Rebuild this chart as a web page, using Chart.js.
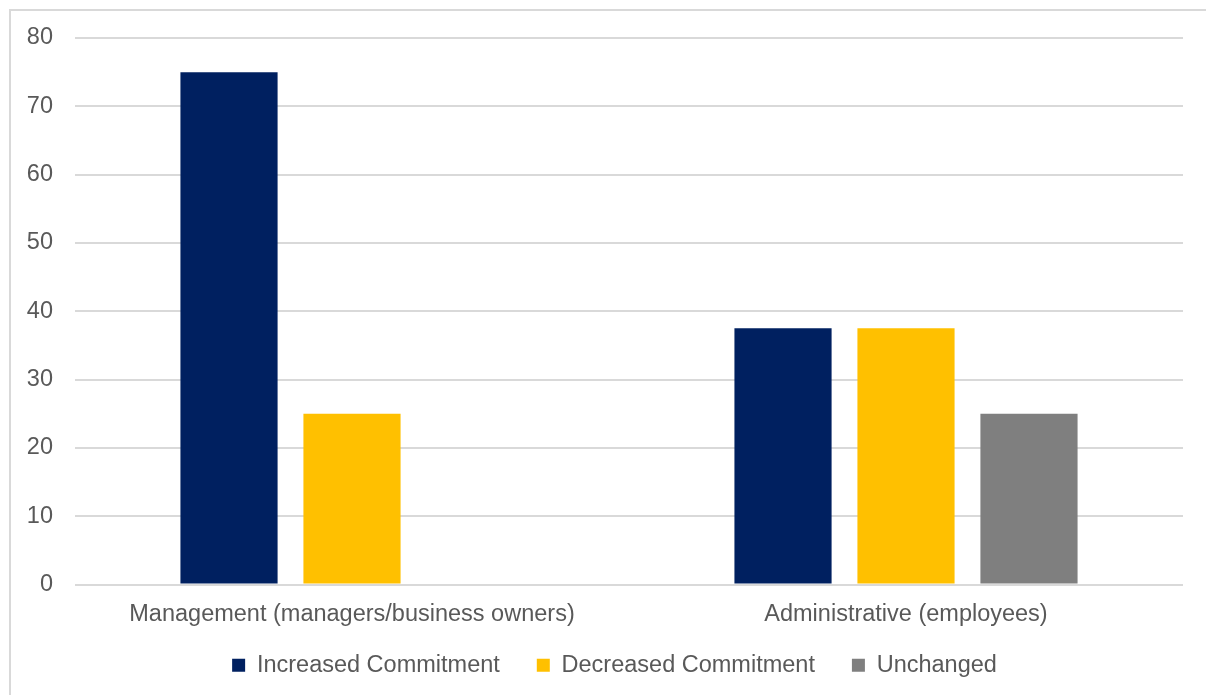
<!DOCTYPE html>
<html>
<head>
<meta charset="utf-8">
<script src="https://cdn.jsdelivr.net/npm/chart.js@4.4.0/dist/chart.umd.min.js"></script>
<style>
  body { margin: 0; background: #fff; overflow: hidden; }
  #rahmen {
    position: absolute; left: 9px; top: 9px; width: 1210px; height: 700px;
    border: 2px solid #d9d9d9; box-sizing: border-box;
  }
  #wrap { position: absolute; left: 0; top: 0; width: 1206px; height: 695px; }
</style>
</head>
<body>
<div id="rahmen"></div>
<div id="wrap"><canvas id="chart"></canvas></div>
<script>
// Kategorien und Werte
const kategorien = ["Management (managers/business owners)", "Administrative (employees)"];
const increased = [75, 37.5];
const decreased = [25, 37.5];
const unchanged = [0, 25];
const yTicks = [0, 10, 20, 30, 40, 50, 60, 70, 80];

const textFarbe = "#595959";
const gridFarbe = "#d9d9d9";
const schrift = { family: "'Liberation Sans', Arial, sans-serif", size: 23.5 };

// Balkendaten
const datasets = [
  { label: "Increased Commitment", data: increased, backgroundColor: "#002060" },
  { label: "Decreased Commitment", data: decreased, backgroundColor: "#FFC000" },
  { label: "Unchanged", data: unchanged, backgroundColor: "#7f7f7f" },
].map((d) => ({ ...d, borderWidth: 0, categoryPercentage: 0.666, barPercentage: 0.79 }));

// Legende nach oben und leicht nach rechts schieben
const legendeVerschieben = {
  id: "legendeVerschieben",
  afterLayout(chart) {
    const lg = chart.legend;
    if (!lg) return;
    lg.top -= 18;
    lg.bottom -= 18;
    lg.left += 23;
    lg.right += 23;
  },
};

const ctx = document.getElementById("chart").getContext("2d");
new Chart(ctx, {
  type: "bar",
  data: { labels: kategorien, datasets },
  plugins: [legendeVerschieben],
  options: {
    responsive: true,
    maintainAspectRatio: false,
    animation: false,
    layout: { padding: { top: 38, right: 23, bottom: -10, left: 0 } },
    plugins: {
      legend: {
        position: "bottom",
        labels: {
          color: textFarbe,
          font: schrift,
          boxWidth: 13,
          boxHeight: 13,
          padding: 37,
        },
      },
      tooltip: { enabled: false },
    },
    scales: {
      x: {
        grid: { display: false },
        border: { display: false },
        ticks: { color: textFarbe, padding: 8, font: schrift, maxRotation: 0 },
        afterFit: (scale) => { scale.height = 50; },
      },
      y: {
        min: 0,
        max: 80,
        afterBuildTicks: (scale) => { scale.ticks = yTicks.map((v) => ({ value: v })); },
        grid: { color: gridFarbe, lineWidth: 2, drawTicks: false },
        border: { display: false },
        ticks: { color: textFarbe, padding: 22, font: schrift },
        afterFit: (scale) => { scale.width = 75; },
      },
    },
  },
});
</script>
</body>
</html>
